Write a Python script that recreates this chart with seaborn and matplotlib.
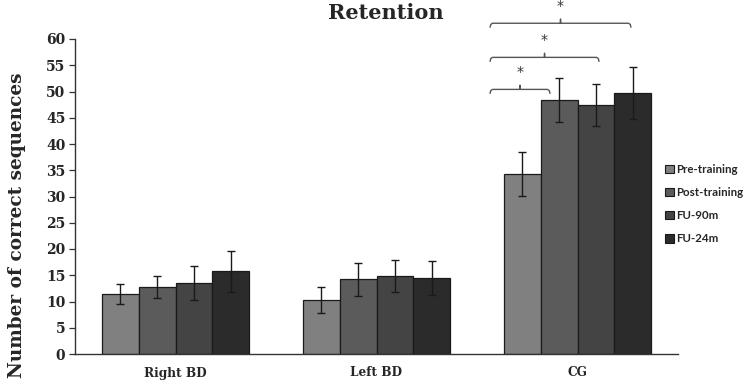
import matplotlib
matplotlib.use("Agg")
import matplotlib.pyplot as plt
import seaborn as sns
import pandas as pd
import numpy as np

groups = ["Right BD", "Left BD", "CG"]
sessions = ["Pre-training", "Post-training", "FU-90m", "FU-24m"]
pre_training = [11.5, 10.3, 34.2]
post_training = [12.7, 14.2, 48.4]
fu_90m = [13.5, 14.9, 47.4]
fu_24m = [15.8, 14.5, 49.7]
err_pre = [1.9, 2.4, 4.2]
err_post = [2.1, 3.2, 4.2]
err_90m = [3.2, 3.0, 3.95]
err_24m = [3.9, 3.2, 4.9]
yticks = list(range(0, 61, 5))

# significance annotations (CG group): bracket start, end, height
brackets_x1 = [1.565, 1.565, 1.565]
brackets_x2 = [1.863, 2.107, 2.266]
brackets_y = [50.4, 56.5, 63.0]

colors = ["#808080", "#5b5b5b", "#444444", "#2b2b2b"]

values = [pre_training, post_training, fu_90m, fu_24m]
errors = [err_pre, err_post, err_90m, err_24m]
rows = []
for s, vals, errs in zip(sessions, values, errors):
    for g, v, e in zip(groups, vals, errs):
        rows.append({"group": g, "session": s, "value": v, "err": e})
df = pd.DataFrame(rows)

sns.set_style("white")
serif = ["DejaVu Serif"]

fig = plt.figure(figsize=(7.49, 3.87), dpi=100)
ax = fig.add_axes([75/749, 33/387, 603/749, 315/387])

sns.barplot(data=df, x="group", y="value", hue="session", order=groups,
            hue_order=sessions, palette=colors, width=0.73, errorbar=None,
            edgecolor="#1a1a1a", linewidth=0.9, saturation=1, ax=ax, legend=True)

# error bars from patch positions
for s_i, s in enumerate(sessions):
    cont = ax.containers[s_i]
    for g_i, bar in enumerate(cont):
        xc = bar.get_x() + bar.get_width() / 2
        ax.errorbar(xc, bar.get_height(), yerr=errors[s_i][g_i], fmt="none",
                    ecolor="#1a1a1a", elinewidth=1.0, capsize=3, capthick=1.0, zorder=5)

ax.set_ylim(0, 60)
ax.set_xlim(-0.5, 2.5)
ax.set_yticks(yticks)
ax.set_yticklabels([str(t) for t in yticks], fontfamily=serif, fontweight="bold", fontsize=10)
ax.set_xticks(range(3))
ax.set_xticklabels(groups, fontfamily=serif, fontweight="bold", fontsize=8.7)
ax.tick_params(axis="y", direction="out", length=4, width=0.9, color="#333333", pad=3, left=True)
ax.tick_params(axis="x", length=0, pad=9)
ax.set_xlabel("")
ax.set_ylabel("Number of correct sequences", fontfamily=serif, fontweight="bold",
              fontsize=13.3)
ax.yaxis.set_label_coords(-0.082, 0.41)
for side in ["top", "right"]:
    ax.spines[side].set_visible(False)
for side in ["left", "bottom"]:
    ax.spines[side].set_color("#333333")
    ax.spines[side].set_linewidth(1.0)

fig.text(386/749, 1 - 13/387, "Retention", ha="center", va="center",
         fontfamily=serif, fontweight="bold", fontsize=15)

# brackets
ppu = 315 / 60.0
d = 4 / ppu
for x1, x2, y in zip(brackets_x1, brackets_x2, brackets_y):
    xm = (x1 + x2) / 2
    r = 0.012
    xs = [x1, x1 + r * 0.3, x1 + r, xm - r, xm, xm, xm, xm + r, x2 - r, x2 - r * 0.3, x2]
    ys = [y - d, y - d * 0.3, y, y, y, y + d, y, y, y, y - d * 0.3, y - d]
    ax.plot(xs, ys, color="#555555", lw=1.0, clip_on=False, solid_joinstyle="round")
    ax.text(xm, y + 17 / ppu, "*", ha="center", va="center", fontsize=10,
            color="#333333", clip_on=False)

leg = ax.legend(loc="upper left", bbox_to_anchor=(665/749, 1 - 164/387),
                bbox_transform=fig.transFigure, frameon=False,
                prop={"family": "Lato", "weight": "bold", "size": 8.3},
                handlelength=0.75, handleheight=0.75, handletextpad=0.2,
                labelspacing=1.05, borderaxespad=0, borderpad=0)
for h in leg.legend_handles:
    h.set_edgecolor("#1a1a1a")
    h.set_linewidth(0.8)

fig.savefig("out.png", dpi=100)
